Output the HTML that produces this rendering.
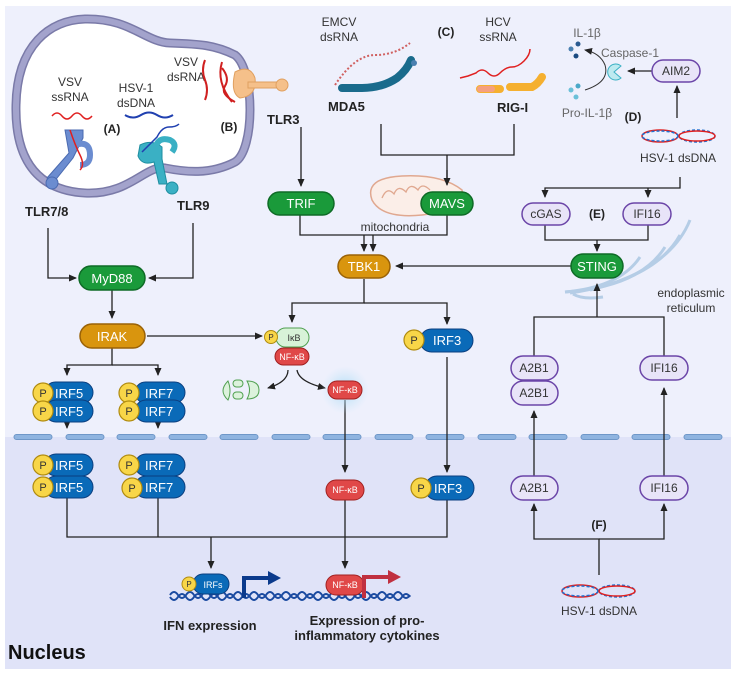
<!DOCTYPE html>
<html><head><meta charset="utf-8"><style>
html,body{margin:0;padding:0;background:#fff;}
svg{display:block;font-family:"Liberation Sans",sans-serif;}
</style></head><body>
<svg width="736" height="674" viewBox="0 0 736 674" xmlns="http://www.w3.org/2000/svg">
<defs>
<marker id="a" markerWidth="8" markerHeight="8" refX="7" refY="4" orient="auto" markerUnits="userSpaceOnUse"><path d="M0,0.5 L8,4 L0,7.5 Z" fill="#222"/></marker>
<radialGradient id="glow"><stop offset="0" stop-color="#9fd8f5" stop-opacity="0.9"/><stop offset="1" stop-color="#c8e6f8" stop-opacity="0"/></radialGradient>
</defs>
<rect x="5" y="6" width="726" height="431" fill="#eef0fc"/>
<rect x="5" y="437" width="726" height="232" fill="#e0e3f8"/>
<g fill="#8fb4e0" stroke="#6f97c8" stroke-width="1">
<rect x="14" y="434.5" width="38" height="5" rx="2.5"/><rect x="66" y="434.5" width="38" height="5" rx="2.5"/><rect x="117" y="434.5" width="38" height="5" rx="2.5"/><rect x="169" y="434.5" width="38" height="5" rx="2.5"/><rect x="220" y="434.5" width="38" height="5" rx="2.5"/><rect x="272" y="434.5" width="38" height="5" rx="2.5"/><rect x="323" y="434.5" width="38" height="5" rx="2.5"/><rect x="375" y="434.5" width="38" height="5" rx="2.5"/><rect x="426" y="434.5" width="38" height="5" rx="2.5"/><rect x="478" y="434.5" width="38" height="5" rx="2.5"/><rect x="529" y="434.5" width="38" height="5" rx="2.5"/><rect x="581" y="434.5" width="38" height="5" rx="2.5"/><rect x="632" y="434.5" width="38" height="5" rx="2.5"/><rect x="684" y="434.5" width="38" height="5" rx="2.5"/>
</g>
<!-- vesicle -->
<path d="M85,19 C130,18 145,42 170,43 C200,44 215,45 235,55 C255,70 255,150 235,162 C210,175 185,172 165,168 C145,165 130,195 85,193 C30,190 15,150 16,105 C17,45 50,20 85,19 Z" fill="#fff" stroke="#7a7aa8" stroke-width="9"/>
<path d="M85,19 C130,18 145,42 170,43 C200,44 215,45 235,55 C255,70 255,150 235,162 C210,175 185,172 165,168 C145,165 130,195 85,193 C30,190 15,150 16,105 C17,45 50,20 85,19 Z" fill="none" stroke="#a3a3cc" stroke-width="6"/>
<g font-size="12" fill="#333" text-anchor="middle">
<text x="70" y="86">VSV</text><text x="70" y="101">ssRNA</text>
<text x="136" y="92">HSV-1</text><text x="136" y="107">dsDNA</text>
<text x="186" y="66">VSV</text><text x="186" y="81">dsRNA</text>
</g>
<g font-size="12" font-weight="bold" fill="#222" text-anchor="middle"><text x="112" y="133">(A)</text><text x="229" y="131">(B)</text></g>
<path d="M52,116 q5,-6 10,0 t10,0 t10,0 t10,0" fill="none" stroke="#e02020" stroke-width="1.5"/>
<path d="M125,115 q8,5 16,0 t16,0 t16,0" fill="none" stroke="#2040b0" stroke-width="2"/>
<path d="M205,60 q-4,10 0,20 t0,20" fill="none" stroke="#d02020" stroke-width="2"/>
<path d="M222,62 q-6,20 10,40" fill="none" stroke="#d02020" stroke-width="2"/>
<!-- TLR7/8 -->
<g fill="#6b8cd0" stroke="#4a6ab0" stroke-width="1"><path d="M65,130 h18 v8 l-10,20 l-20,25 l-6,-5 l22,-25 z"/><circle cx="52" cy="183" r="6"/><path d="M75,145 q15,-5 15,10 q0,10 -10,10" fill="none" stroke-width="6" stroke="#6b8cd0"/></g>
<path d="M70,130 q5,15 10,25 t0,15" fill="none" stroke="#e02020" stroke-width="1.5"/>
<!-- TLR9 -->
<g fill="#3ab0c4" stroke="#1e8ea0" stroke-width="1"><path d="M140,145 q12,-6 22,2 v12 l5,25 h-8 l-5,-22 q-12,4 -16,-6 z"/><circle cx="172" cy="188" r="6"/><path d="M155,150 q2,-14 15,-10 q8,4 2,12" fill="none" stroke-width="6" stroke="#3ab0c4"/></g>
<path d="M142,152 q10,-10 15,-15 q5,-10 12,-10 t10,-3" fill="none" stroke="#2040b0" stroke-width="1.5"/>
<!-- TLR3 -->
<g fill="#f5c08a" stroke="#e0a060" stroke-width="1"><path d="M235,72 q15,-8 20,6 q2,18 -15,20 q-10,-5 -5,-26z"/><rect x="248" y="82" width="30" height="6"/><circle cx="282" cy="85" r="6"/></g>
<path d="M222,68 q8,10 3,18 t10,16" fill="none" stroke="#d02020" stroke-width="2"/>
<g font-size="13" font-weight="bold" fill="#222"><text x="267" y="124">TLR3</text><text x="25" y="216">TLR7/8</text><text x="177" y="210">TLR9</text><text x="328" y="111">MDA5</text><text x="497" y="112">RIG-I</text></g>
<!-- EMCV / MDA5 -->
<g font-size="12" fill="#333" text-anchor="middle"><text x="339" y="26">EMCV</text><text x="339" y="41">dsRNA</text><text x="498" y="26">HCV</text><text x="498" y="41">ssRNA</text></g>
<path d="M335,85 q20,-30 40,-30 t35,-12" fill="none" stroke="#d06060" stroke-width="2" stroke-dasharray="2,2"/>
<path d="M342,88 h20 q20,0 35,-10 q10,-8 14,-18" fill="none" stroke="#1a6b8c" stroke-width="8" stroke-linecap="round"/>
<circle cx="414" cy="63" r="3" fill="#4a80b0"/>
<text x="446" y="36" font-size="12" font-weight="bold" fill="#222" text-anchor="middle">(C)</text>
<path d="M460,78 l8,-2 8,-3 q6,-6 12,0 t12,0 t12,-6 t12,-6 t6,-12" fill="none" stroke="#e02020" stroke-width="1.5"/>
<path d="M480,89 h20 M510,87 h22 q6,-3 10,-10" fill="none" stroke="#f5b030" stroke-width="8" stroke-linecap="round"/>
<path d="M480,89 h12" stroke="#f5a080" stroke-width="6" stroke-linecap="round"/>
<!-- IL-1b area -->
<g font-size="12" fill="#666" text-anchor="middle"><text x="587" y="37">IL-1β</text><text x="630" y="57">Caspase-1</text><text x="587" y="117">Pro-IL-1β</text></g>
<circle cx="571" cy="49" r="2.5" fill="#4a80b0"/><circle cx="578" cy="44" r="2.5" fill="#2a5a90"/><circle cx="576" cy="56" r="2.5" fill="#1a4a80"/>
<circle cx="571" cy="90" r="2.5" fill="#6ac0d8"/><circle cx="578" cy="86" r="2.5" fill="#4aa8c8"/><circle cx="576" cy="97" r="2.5" fill="#6ac0d8"/>
<path d="M585,90 q25,-8 20,-25 q-5,-12 -20,-15" fill="none" stroke="#333" stroke-width="1" marker-end="url(#a)"/>
<path d="M621,66 a8,8 0 1,0 0,12 l-7,-6 z" fill="#bdeaf0" stroke="#3ab0c4" stroke-width="1"/>
<line x1="652" y1="71" x2="628" y2="71" stroke="#222" stroke-width="1.3" marker-end="url(#a)"/>
<rect x="652" y="60" width="48" height="22" rx="11" fill="#e8e4f8" stroke="#6b45a8" stroke-width="1.5"/>
<text x="676" y="75" font-size="12" fill="#333" text-anchor="middle">AIM2</text>
<text x="633" y="121" font-size="12" font-weight="bold" fill="#222" text-anchor="middle">(D)</text>
<g fill="none" stroke-width="1.5"><ellipse cx="660" cy="136" rx="18" ry="6" stroke="#e02020"/><ellipse cx="697" cy="136" rx="18" ry="6" stroke="#2070d0" stroke-dasharray="3,2"/><ellipse cx="660" cy="136" rx="18" ry="5" stroke="#2070d0" stroke-dasharray="3,2"/><ellipse cx="697" cy="136" rx="18" ry="5" stroke="#e02020"/></g>
<text x="678" y="162" font-size="12" fill="#333" text-anchor="middle">HSV-1 dsDNA</text>
<line x1="677" y1="118" x2="677" y2="86" stroke="#222" stroke-width="1.3" marker-end="url(#a)"/>
<!-- mitochondria -->
<path d="M372,200 q-8,-22 30,-24 q40,-2 60,14 q5,20 -40,25 q-40,4 -50,-15z" fill="#fbeee8" stroke="#e0a890" stroke-width="1.5"/>
<path d="M382,198 q5,-12 12,-4 q4,-10 12,-2 q4,-10 12,-2 q4,-8 12,0" fill="none" stroke="#e0a890" stroke-width="1.3"/>
<!-- ER -->
<g fill="none" stroke="#b5cde6" stroke-width="3"><path d="M690,220 q-20,50 -100,70"/><path d="M680,235 q-25,45 -110,58"/><path d="M665,247 q-25,40 -100,45"/><path d="M640,257 q-20,30 -75,35"/><path d="M603,297 q-20,3 -30,-3"/></g>
<g font-size="12" fill="#333" text-anchor="middle"><text x="395" y="231">mitochondria</text><text x="691" y="297">endoplasmic</text><text x="691" y="312">reticulum</text></g>
<!-- connectors -->
<g fill="none" stroke="#222" stroke-width="1.3">
<path d="M301,127 V186" marker-end="url(#a)"/>
<path d="M381,124 V155 H514 V124 M447,155 V184" /><path d="M447,170 V185" marker-end="url(#a)"/>
<path d="M300,215 V235 H447 V215"/>
<path d="M364,235 V251" marker-end="url(#a)"/><path d="M373,235 V251" marker-end="url(#a)"/>
<path d="M48,228 V278 H76" marker-end="url(#a)"/>
<path d="M193,223 V278 H149" marker-end="url(#a)"/>
<path d="M112,290 V318" marker-end="url(#a)"/>
<path d="M147,336 H262" marker-end="url(#a)"/>
<path d="M112,347 V365 H67 V375" marker-end="url(#a)"/><path d="M112,365 H158 V375" marker-end="url(#a)"/>
<path d="M364,279 V303 H292 V322" marker-end="url(#a)"/><path d="M364,303 H447 V324" marker-end="url(#a)"/>
<path d="M571,266 H396" marker-end="url(#a)"/>
<path d="M680,177 V188 H545 V197" marker-end="url(#a)"/><path d="M648,188 V197" marker-end="url(#a)"/>
<path d="M545,225 V240 H648 V225 M597,240 V251" marker-end="url(#a)"/>
<path d="M534,356 V317 H664 V356 M597,317 V284" marker-end="url(#a)"/>
<path d="M67,403 V428" marker-end="url(#a)"/><path d="M158,403 V428" marker-end="url(#a)"/>
<path d="M288,370 q0,12 -20,18" marker-end="url(#a)"/><path d="M297,370 q2,12 28,18" marker-end="url(#a)"/>
<path d="M345,400 V472" marker-end="url(#a)"/>
<path d="M447,357 V472" marker-end="url(#a)"/>
<path d="M67,498 V537 H447 V500 M158,498 V537 M211,537 V568" marker-end="url(#a)"/>
<path d="M345,500 V568" marker-end="url(#a)"/>
<path d="M534,476 V411" marker-end="url(#a)"/><path d="M664,476 V388" marker-end="url(#a)"/>
<path d="M599,575 V539 H534 V504" marker-end="url(#a)"/><path d="M599,539 H664 V504" marker-end="url(#a)"/>
</g>
<!-- pills -->
<g font-size="13" fill="#fff" text-anchor="middle">
<rect x="268" y="192" width="66" height="23" rx="11.5" fill="#1a9a3a" stroke="#0e6b26" stroke-width="1.5"/><text x="301" y="208">TRIF</text>
<rect x="421" y="192" width="52" height="23" rx="11.5" fill="#1a9a3a" stroke="#0e6b26" stroke-width="1.5"/><text x="447" y="208">MAVS</text>
<rect x="79" y="266" width="66" height="24" rx="12" fill="#1a9a3a" stroke="#0e6b26" stroke-width="1.5"/><text x="112" y="283">MyD88</text>
<rect x="571" y="254" width="52" height="24" rx="12" fill="#1a9a3a" stroke="#0e6b26" stroke-width="1.5"/><text x="597" y="271">STING</text>
<rect x="338" y="255" width="52" height="23" rx="11.5" fill="#d9950e" stroke="#9a6206" stroke-width="1.5"/><text x="364" y="271">TBK1</text>
<rect x="80" y="324" width="65" height="24" rx="12" fill="#d9950e" stroke="#9a6206" stroke-width="1.5"/><text x="112" y="341">IRAK</text>
</g>
<g font-size="12" fill="#333" text-anchor="middle">
<rect x="522" y="203" width="48" height="22" rx="11" fill="#e8e4f8" stroke="#6b45a8" stroke-width="1.5"/><text x="546" y="218">cGAS</text>
<rect x="623" y="203" width="48" height="22" rx="11" fill="#e8e4f8" stroke="#6b45a8" stroke-width="1.5"/><text x="647" y="218">IFI16</text>
<rect x="511" y="356" width="47" height="24" rx="12" fill="#e8e4f8" stroke="#6b45a8" stroke-width="1.5"/><text x="534" y="372">A2B1</text>
<rect x="511" y="381" width="47" height="24" rx="12" fill="#e8e4f8" stroke="#6b45a8" stroke-width="1.5"/><text x="534" y="397">A2B1</text>
<rect x="640" y="356" width="48" height="24" rx="12" fill="#e8e4f8" stroke="#6b45a8" stroke-width="1.5"/><text x="664" y="372">IFI16</text>
<rect x="511" y="476" width="47" height="24" rx="12" fill="#e8e4f8" stroke="#6b45a8" stroke-width="1.5"/><text x="534" y="492">A2B1</text>
<rect x="640" y="476" width="48" height="24" rx="12" fill="#e8e4f8" stroke="#6b45a8" stroke-width="1.5"/><text x="664" y="492">IFI16</text>
</g>
<g font-size="12" font-weight="bold" fill="#222" text-anchor="middle"><text x="597" y="218">(E)</text><text x="599" y="529">(F)</text></g>
<!-- IkB complex -->
<rect x="276" y="328" width="33" height="19" rx="9.5" fill="#d8f2d8" stroke="#50a050" stroke-width="1"/>
<text x="294" y="341" font-size="9" fill="#333" text-anchor="middle">IκB</text>
<circle cx="271" cy="337" r="6.5" fill="#f8d648" stroke="#b08b10"/><text x="271" y="340" font-size="8" text-anchor="middle" fill="#333">P</text>
<rect x="275" y="348" width="34" height="17" rx="8.5" fill="#e04848" stroke="#a02020"/><text x="292" y="360" font-size="9" fill="#fff" text-anchor="middle">NF-κB</text>
<g fill="#dcf2dc" stroke="#50a050" stroke-width="1"><path d="M228,381 q-10,10 0,19 q4,-9 0,-19z"/><rect x="233" y="380" width="10" height="7" rx="3.5"/><rect x="233" y="392" width="10" height="7" rx="3.5"/><path d="M247,381 q12,0 12,9 q0,9 -12,9 q5,-9 0,-18z"/></g>
<circle cx="345" cy="390" r="24" fill="url(#glow)"/>
<g font-size="9" fill="#fff" text-anchor="middle">
<rect x="328" y="381" width="34" height="18" rx="9" fill="#e04848" stroke="#a02020"/><text x="345" y="393">NF-κB</text>
<rect x="326" y="480" width="38" height="20" rx="10" fill="#e04848" stroke="#a02020"/><text x="345" y="493">NF-κB</text>
</g>
<!-- IRF pills -->
<g font-size="13" fill="#fff">
<g id="irf5"><rect x="45" y="382" width="48" height="21" rx="10.5" fill="#0a6ab8" stroke="#0b3f80"/><rect x="45" y="400" width="48" height="22" rx="11" fill="#0a6ab8" stroke="#0b3f80"/></g>
<text x="55" y="398">IRF5</text><text x="55" y="416">IRF5</text>
<rect x="135" y="382" width="50" height="21" rx="10.5" fill="#0a6ab8" stroke="#0b3f80"/><rect x="135" y="400" width="50" height="22" rx="11" fill="#0a6ab8" stroke="#0b3f80"/>
<text x="145" y="398">IRF7</text><text x="145" y="416">IRF7</text>
<rect x="45" y="454" width="48" height="22" rx="11" fill="#0a6ab8" stroke="#0b3f80"/><rect x="45" y="476" width="48" height="22" rx="11" fill="#0a6ab8" stroke="#0b3f80"/>
<text x="55" y="470">IRF5</text><text x="55" y="492">IRF5</text>
<rect x="135" y="454" width="50" height="22" rx="11" fill="#0a6ab8" stroke="#0b3f80"/><rect x="135" y="476" width="50" height="22" rx="11" fill="#0a6ab8" stroke="#0b3f80"/>
<text x="145" y="470">IRF7</text><text x="145" y="492">IRF7</text>
<rect x="420" y="329" width="53" height="23" rx="11.5" fill="#0a6ab8" stroke="#0b3f80"/><text x="433" y="345">IRF3</text>
<rect x="425" y="476" width="49" height="24" rx="12" fill="#0a6ab8" stroke="#0b3f80"/><text x="434" y="493">IRF3</text>
</g>
<g fill="#f8d648" stroke="#b08b10" stroke-width="1.2">
<circle cx="43" cy="393" r="10"/><circle cx="43" cy="411" r="10"/><circle cx="129" cy="393" r="10"/><circle cx="129" cy="411" r="10"/>
<circle cx="43" cy="465" r="10"/><circle cx="43" cy="487" r="10"/><circle cx="129" cy="465" r="10"/><circle cx="132" cy="488" r="10"/>
<circle cx="414" cy="340" r="10"/><circle cx="421" cy="488" r="10"/>
</g>
<g font-size="11" fill="#333" text-anchor="middle">
<text x="43" y="397">P</text><text x="43" y="415">P</text><text x="129" y="397">P</text><text x="129" y="415">P</text>
<text x="43" y="469">P</text><text x="43" y="491">P</text><text x="129" y="469">P</text><text x="132" y="492">P</text>
<text x="414" y="344">P</text><text x="421" y="492">P</text>
</g>
<!-- DNA & expression -->
<path d="M170,595 q4,-6 8,0 t8,0 t8,0 t8,0 t8,0 t8,0 t8,0 t8,0 t8,0 t8,0 t8,0 t8,0 t8,0 t8,0 t8,0 t8,0 t8,0 t8,0 t8,0 t8,0 t8,0 t8,0 t8,0 t8,0 t8,0 t8,0 t8,0 t8,0 t8,0 t8,0" fill="none" stroke="#1a4aa0" stroke-width="2"/>
<path d="M170,597 q4,6 8,0 t8,0 t8,0 t8,0 t8,0 t8,0 t8,0 t8,0 t8,0 t8,0 t8,0 t8,0 t8,0 t8,0 t8,0 t8,0 t8,0 t8,0 t8,0 t8,0 t8,0 t8,0 t8,0 t8,0 t8,0 t8,0 t8,0 t8,0 t8,0 t8,0" fill="none" stroke="#1a4aa0" stroke-width="2"/>
<rect x="193" y="574" width="36" height="20" rx="10" fill="#0a6ab8" stroke="#0b3f80"/><text x="213" y="588" font-size="9" fill="#fff" text-anchor="middle">IRFs</text>
<circle cx="189" cy="584" r="7" fill="#f8d648" stroke="#b08b10"/><text x="189" y="587" font-size="8" text-anchor="middle" fill="#333">P</text>
<path d="M244,598 V578 H270" fill="none" stroke="#0b3a8c" stroke-width="4"/><path d="M268,571 L281,578 L268,585 Z" fill="#0b3a8c"/>
<rect x="326" y="575" width="38" height="20" rx="10" fill="#e04848" stroke="#a02020"/><text x="345" y="588" font-size="9" fill="#fff" text-anchor="middle">NF-κB</text>
<path d="M364,598 V577 H390" fill="none" stroke="#c03040" stroke-width="4"/><path d="M388,570 L401,577 L388,584 Z" fill="#c03040"/>
<g font-size="13" font-weight="bold" fill="#222" text-anchor="middle"><text x="210" y="630">IFN expression</text><text x="367" y="625">Expression of pro-</text><text x="367" y="640">inflammatory cytokines</text></g>
<g fill="none" stroke-width="1.5"><ellipse cx="580" cy="591" rx="18" ry="6" stroke="#e02020"/><ellipse cx="617" cy="591" rx="18" ry="6" stroke="#2070d0" stroke-dasharray="3,2"/><ellipse cx="580" cy="591" rx="18" ry="5" stroke="#2070d0" stroke-dasharray="3,2"/><ellipse cx="617" cy="591" rx="18" ry="5" stroke="#e02020"/></g>
<text x="599" y="615" font-size="12" fill="#333" text-anchor="middle">HSV-1 dsDNA</text>
<text x="8" y="659" font-size="20" font-weight="bold" fill="#111">Nucleus</text>
</svg>
</body></html>
